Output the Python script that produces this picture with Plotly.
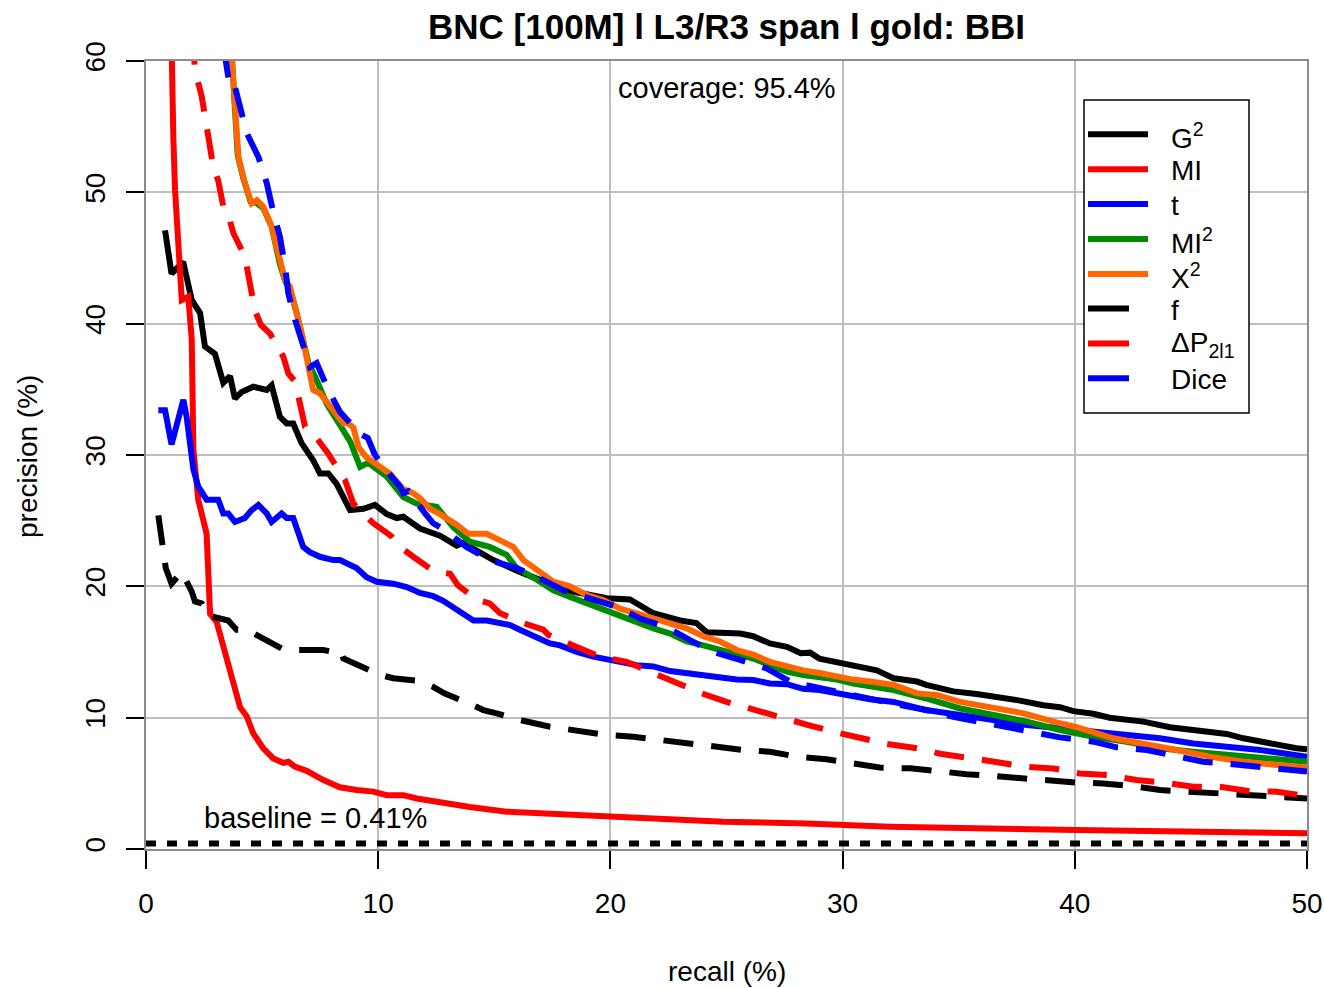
import plotly.graph_objects as go

# ---------------- data (recall %, precision %) ----------------
G2_x = [0.82, 1.1, 1.6, 1.97, 2.33, 2.54, 2.97, 3.33, 3.62, 3.83, 4.12, 4.62, 5.2, 5.41, 5.77, 6.06, 6.34, 6.7, 7.2, 7.49, 7.85, 8.21, 8.5, 8.79, 9.36, 9.86, 10.37, 10.8, 11.08, 11.8, 12.66, 13.38, 13.66, 14.96, 16.1, 16.97, 18.1, 19.84, 20.84, 21.85, 23.0, 23.7, 24.15, 25.6, 26.15, 26.87, 27.6, 28.2, 28.6, 29.0, 29.75, 30.3, 31.0, 31.47, 32.2, 33.2, 33.6, 34.77, 35.77, 36.78, 37.64, 38.64, 39.36, 39.94, 40.8, 41.5, 42.2, 42.95, 44.1, 45.1, 45.8, 46.54, 47.26, 47.98, 48.98, 49.55, 50.0]
G2_y = [47.1, 43.8, 44.7, 41.8, 40.8, 38.25, 37.7, 35.5, 36.0, 34.3, 34.8, 35.2, 34.95, 35.3, 32.9, 32.4, 32.4, 30.9, 29.6, 28.6, 28.6, 27.8, 26.8, 25.8, 25.9, 26.2, 25.5, 25.2, 25.3, 24.4, 23.85, 23.1, 23.3, 22.0, 21.1, 20.5, 19.7, 19.1, 19.0, 17.95, 17.4, 17.2, 16.5, 16.4, 16.2, 15.65, 15.4, 14.9, 14.95, 14.5, 14.25, 14.0, 13.8, 13.6, 13.0, 12.75, 12.5, 12.0, 11.8, 11.55, 11.3, 10.95, 10.8, 10.5, 10.3, 10.0, 9.9, 9.7, 9.27, 9.06, 8.93, 8.76, 8.43, 8.17, 7.92, 7.67, 7.6]

MI_x = [1.05, 1.1, 1.18, 1.25, 1.39, 1.54, 1.82, 1.97, 2.04, 2.25, 2.61, 2.76, 3.04, 3.4, 3.76, 4.05, 4.34, 4.62, 5.05, 5.48, 5.91, 6.13, 6.41, 6.92, 7.64, 8.35, 9.07, 9.79, 10.37, 11.08, 11.66, 12.66, 13.95, 15.53, 18.4, 19.84, 23.43, 24.86, 28.45, 30.75, 32.04, 40.08, 50.0]
MI_y = [66.0, 60.0, 54.0, 50.2, 46.4, 41.8, 42.05, 38.8, 30.4, 26.6, 24.0, 17.9, 17.3, 14.9, 12.4, 10.8, 10.1, 8.8, 7.67, 6.9, 6.56, 6.64, 6.27, 5.95, 5.25, 4.7, 4.5, 4.37, 4.1, 4.1, 3.85, 3.55, 3.2, 2.84, 2.59, 2.46, 2.26, 2.08, 1.95, 1.83, 1.7, 1.45, 1.2]

t_x = [0.53, 0.82, 1.1, 1.61, 1.75, 2.04, 2.25, 2.61, 3.11, 3.33, 3.54, 3.83, 4.26, 4.55, 4.84, 5.2, 5.41, 5.84, 6.06, 6.34, 6.77, 7.06, 7.49, 8.07, 8.35, 9.07, 9.5, 9.94, 10.65, 11.23, 11.8, 12.37, 12.8, 13.23, 13.8, 14.1, 14.67, 15.68, 16.1, 16.83, 17.4, 17.83, 18.55, 19.26, 19.84, 20.41, 21.13, 21.85, 22.57, 23.28, 24.0, 24.72, 25.44, 26.15, 26.87, 27.6, 28.3, 29.0, 29.75, 30.46, 31.18, 32.2, 33.6, 35.06, 36.5, 37.93, 39.36, 40.8, 42.24, 43.67, 45.1, 46.54, 47.98, 50.0]
t_y = [33.4, 33.4, 30.8, 34.2, 32.9, 28.9, 27.6, 26.6, 26.6, 25.55, 25.55, 24.9, 25.2, 25.8, 26.2, 25.55, 24.9, 25.55, 25.2, 25.2, 23.0, 22.6, 22.25, 22.0, 22.0, 21.4, 20.7, 20.35, 20.2, 19.95, 19.5, 19.25, 18.9, 18.4, 17.8, 17.4, 17.4, 17.05, 16.7, 16.15, 15.65, 15.5, 15.0, 14.65, 14.4, 14.25, 14.0, 13.9, 13.55, 13.4, 13.3, 13.1, 12.9, 12.87, 12.6, 12.55, 12.2, 12.1, 11.85, 11.6, 11.4, 11.2, 10.58, 10.2, 9.82, 9.44, 9.19, 8.93, 8.68, 8.43, 8.04, 7.79, 7.54, 7.03]

MI2_x = [3.69, 3.83, 3.95, 4.2, 4.5, 4.75, 5.05, 5.41, 5.77, 6.0, 6.2, 6.49, 6.77, 7.0, 7.35, 7.78, 8.35, 8.8, 9.22, 9.5, 9.65, 10.37, 11.08, 11.66, 12.52, 13.23, 13.95, 14.8, 15.53, 15.96, 16.83, 17.54, 18.26, 18.98, 19.7, 20.41, 21.13, 21.85, 22.57, 23.28, 24.0, 24.72, 25.44, 26.15, 26.87, 27.6, 28.3, 29.0, 29.75, 30.46, 31.18, 32.2, 33.6, 35.06, 36.5, 37.93, 39.36, 40.8, 42.24, 43.67, 45.1, 46.54, 47.98, 50.0]
MI2_y = [60.5, 56.5, 52.8, 51.0, 49.3, 49.2, 48.8, 47.4, 44.5, 43.2, 42.6, 40.8, 38.6, 37.0, 35.7, 33.9, 32.3, 31.0, 29.1, 29.35, 29.3, 28.35, 26.8, 26.3, 26.05, 24.5, 23.4, 23.0, 22.4, 21.4, 20.5, 19.7, 19.2, 18.7, 18.2, 17.7, 17.2, 16.8, 16.4, 15.8, 15.5, 15.15, 14.8, 14.5, 14.0, 13.5, 13.25, 13.1, 12.9, 12.6, 12.4, 12.1, 11.46, 10.7, 10.2, 9.7, 9.06, 8.55, 8.17, 7.67, 7.4, 7.16, 6.9, 6.64]

X2_x = [3.69, 3.83, 3.98, 4.26, 4.55, 4.77, 5.05, 5.41, 5.77, 5.99, 6.2, 6.49, 6.7, 7.2, 7.49, 8.07, 8.5, 8.64, 8.93, 9.15, 9.5, 10.08, 10.5, 11.08, 11.51, 11.8, 12.23, 12.66, 13.38, 13.88, 14.67, 15.25, 15.82, 16.25, 16.97, 17.54, 18.26, 18.98, 19.7, 20.41, 21.13, 21.85, 22.57, 23.28, 24.0, 24.72, 25.44, 26.15, 26.87, 27.6, 28.3, 29.0, 29.75, 30.46, 31.18, 32.2, 33.2, 34.06, 35.06, 36.5, 37.8, 39.08, 40.08, 41.66, 42.95, 44.39, 45.8, 47.26, 48.7, 50.0]
X2_y = [60.5, 56.5, 52.7, 50.7, 49.15, 49.4, 48.9, 47.4, 44.85, 43.3, 42.8, 41.0, 39.3, 34.95, 34.7, 33.4, 32.4, 32.5, 32.1, 30.6, 29.8, 29.1, 28.6, 27.4, 27.1, 26.7, 25.9, 25.5, 24.7, 24.0, 24.0, 23.5, 23.0, 22.0, 21.1, 20.35, 20.0, 19.35, 18.95, 18.3, 17.95, 17.55, 17.2, 16.8, 16.2, 15.8, 15.15, 14.8, 14.25, 13.9, 13.6, 13.4, 13.1, 12.9, 12.75, 12.5, 11.85, 11.73, 11.2, 10.7, 10.33, 9.7, 9.27, 8.43, 8.04, 7.54, 7.03, 6.64, 6.4, 6.2]

f_x = [0.53, 0.67, 0.85, 1.1, 1.54, 1.97, 2.11, 2.4, 2.61, 3.54, 3.9, 4.34, 5.41, 5.91, 6.49, 7.64, 8.07, 8.35, 8.5, 9.5, 10.08, 10.65, 11.8, 12.37, 12.85, 13.9, 14.53, 15.1, 16.1, 17.4, 18.55, 19.84, 20.98, 22.13, 23.28, 24.58, 25.72, 26.87, 28.02, 29.31, 30.5, 31.6, 32.9, 34.06, 35.34, 36.5, 37.64, 38.79, 40.08, 41.23, 42.38, 43.67, 44.82, 45.97, 47.26, 48.41, 50.0]
f_y = [25.4, 23.3, 21.4, 20.2, 21.1, 19.6, 18.85, 18.7, 17.8, 17.4, 16.7, 16.7, 15.65, 15.2, 15.15, 15.15, 15.0, 15.15, 14.5, 13.75, 13.25, 13.0, 12.8, 12.35, 11.85, 11.1, 10.58, 10.32, 9.82, 9.31, 9.06, 8.68, 8.55, 8.3, 8.04, 7.86, 7.54, 7.41, 7.03, 6.83, 6.5, 6.2, 6.14, 5.88, 5.7, 5.56, 5.37, 5.19, 5.06, 4.99, 4.81, 4.49, 4.36, 4.28, 4.19, 4.04, 3.85]

DP_x = [2.0, 2.11, 2.4, 2.61, 2.76, 2.9, 3.11, 3.33, 3.54, 3.76, 4.26, 4.48, 4.69, 4.95, 5.34, 5.91, 6.13, 6.42, 6.63, 6.85, 7.2, 7.85, 8.57, 8.93, 9.22, 9.79, 10.58, 10.94, 11.51, 12.4, 13.1, 13.42, 14.23, 14.8, 15.25, 16.25, 17.11, 17.33, 18.4, 19.55, 20.7, 21.7, 22.85, 23.93, 25.0, 26.23, 27.3, 28.52, 29.6, 30.8, 31.9, 33.2, 34.27, 35.6, 36.6, 37.93, 39.08, 40.22, 41.44, 42.66, 43.81, 45.1, 46.25, 47.4, 48.7, 50.0]
DP_y = [62.0, 59.3, 57.3, 55.0, 53.0, 51.9, 50.9, 48.9, 48.3, 46.9, 45.1, 43.1, 41.0, 39.9, 39.25, 37.5, 36.2, 35.6, 33.7, 32.15, 31.65, 30.1, 28.1, 26.3, 25.8, 24.8, 23.8, 23.0, 22.25, 21.15, 20.95, 20.1, 19.0, 18.7, 17.95, 17.2, 16.7, 16.3, 15.5, 14.65, 14.25, 13.5, 12.55, 11.85, 11.2, 10.58, 9.95, 9.44, 8.93, 8.4, 8.0, 7.67, 7.23, 6.9, 6.64, 6.26, 6.13, 5.75, 5.63, 5.25, 5.06, 4.74, 4.74, 4.43, 4.36, 4.04]

Dice_x = [3.35, 3.62, 3.83, 4.05, 4.34, 4.84, 5.2, 5.48, 5.77, 5.99, 6.13, 6.42, 6.77, 7.06, 7.35, 7.85, 8.35, 9.22, 9.55, 9.86, 10.55, 10.94, 11.08, 11.3, 12.02, 12.37, 12.85, 13.8, 14.8, 15.96, 16.97, 17.97, 19.12, 20.27, 21.27, 22.42, 23.43, 24.43, 25.58, 26.73, 27.73, 28.7, 29.7, 30.75, 32.47, 33.6, 34.77, 35.92, 37.07, 38.36, 39.36, 40.8, 41.8, 43.1, 44.24, 45.53, 46.54, 47.84, 48.98, 50.0]
Dice_y = [61.0, 57.9, 58.05, 56.5, 54.5, 52.7, 50.7, 48.5, 46.6, 44.3, 42.3, 40.3, 38.25, 36.7, 37.0, 34.95, 33.3, 31.6, 31.3, 30.0, 28.4, 27.6, 27.1, 27.25, 25.55, 24.8, 24.3, 23.0, 22.0, 21.4, 20.6, 19.7, 19.07, 18.45, 17.55, 16.9, 15.9, 15.0, 14.4, 13.75, 12.75, 12.35, 11.95, 11.6, 10.96, 10.58, 10.07, 9.69, 9.31, 8.8, 8.5, 8.17, 7.74, 7.54, 7.16, 6.64, 6.5, 6.26, 6.0, 5.9]

BASELINE = 0.41
COVERAGE = 95.4

series_names = ["G<sup>2</sup>", "MI", "t", "MI<sup>2</sup>", "X<sup>2</sup>", "f", "ΔP<sub>2l1</sub>", "Dice"]
series_x = [G2_x, MI_x, t_x, MI2_x, X2_x, f_x, DP_x, Dice_x]
series_y = [G2_y, MI_y, t_y, MI2_y, X2_y, f_y, DP_y, Dice_y]
series_colors = ["#000000", "#FF0000", "#0000FF", "#008B00", "#FF6600", "#000000", "#FF0000", "#0000FF"]
series_dashed = [False, False, False, False, False, True, True, True]

FONT = "Liberation Sans, Arial, Helvetica, sans-serif"
DASH = "30px,18px"
LW = 6

# ---------------- geometry (pixels) ----------------
W, H = 1324, 988
L, R, T, B = 146, 1307, 61, 849


def px(xp):
    return (xp - L) / (R - L)


def py(yp):
    return (B - yp) / (B - T)


fig = go.Figure()
for name, xs, ys, col, dashed in zip(series_names, series_x, series_y, series_colors, series_dashed):
    fig.add_trace(go.Scatter(
        x=xs, y=ys, mode="lines", name=name, showlegend=False,
        line=dict(color=col, width=LW, dash=DASH if dashed else "solid"),
        hoverinfo="skip",
    ))

shapes = []
# baseline
shapes.append(dict(type="line", xref="x domain", yref="y", x0=0, x1=1, y0=BASELINE, y1=BASELINE,
                   line=dict(color="black", width=6, dash="10px,11px"), layer="above"))

# custom legend
shapes.append(dict(type="rect", xref="paper", yref="paper", x0=px(1084), x1=px(1249), y0=py(413), y1=py(100),
                   line=dict(color="black", width=1.5), fillcolor="white", layer="above"))
annotations = []
row_y = [134.3, 169.3, 204.0, 239.0, 274.0, 308.6, 343.4, 378.2]
for i, (name, col, dashed) in enumerate(zip(series_names, series_colors, series_dashed)):
    x_end = 1129 if dashed else 1148
    shapes.append(dict(type="line", xref="paper", yref="paper", x0=px(1088), x1=px(x_end),
                       y0=py(row_y[i]), y1=py(row_y[i]), line=dict(color=col, width=LW), layer="above"))
    annotations.append(dict(text=name, xref="paper", yref="paper", x=px(1169), y=py(row_y[i] + 1.5),
                            xanchor="left", yanchor="middle", showarrow=False,
                            font=dict(size=28, color="black", family=FONT)))

annotations += [
    dict(text="<b>BNC [100M] l L3/R3 span l gold: BBI</b>", xref="paper", yref="paper",
         x=0.5, y=py(26), xanchor="center", yanchor="middle", showarrow=False,
         font=dict(size=35, color="black", family=FONT)),
    dict(text=f"coverage: {COVERAGE}%", xref="paper", yref="paper", x=0.5, y=py(88),
         xanchor="center", yanchor="middle", showarrow=False, font=dict(size=29, color="black", family=FONT)),
    dict(text=f"baseline = {BASELINE}%", xref="paper", yref="paper", x=px(315), y=py(818),
         xanchor="center", yanchor="middle", showarrow=False, font=dict(size=29, color="black", family=FONT)),
    dict(text="recall (%)", xref="paper", yref="paper", x=0.5, y=py(972),
         xanchor="center", yanchor="middle", showarrow=False, font=dict(size=28, color="black", family=FONT)),
    dict(text="precision (%)", xref="paper", yref="paper", x=px(27), y=py(457), textangle=-90,
         xanchor="center", yanchor="middle", showarrow=False, font=dict(size=28, color="black", family=FONT)),
]

axis_common = dict(
    showgrid=True, gridcolor="#BEBEBE", gridwidth=1.5, zeroline=False,
    showline=True, mirror=True, linecolor="#8C8C8C", linewidth=1.5,
    ticks="outside", ticklen=18, tickwidth=1.5, tickcolor="black",
    tickfont=dict(size=28, color="black", family=FONT), automargin=False,
)

fig.update_layout(
    width=W, height=H,
    margin=dict(l=L, r=W - R, t=T, b=H - B, pad=0, autoexpand=False),
    paper_bgcolor="white", plot_bgcolor="white",
    showlegend=False,
    xaxis=dict(range=[0, 50], tickvals=[0, 10, 20, 30, 40, 50], ticklabelstandoff=11, **axis_common),
    yaxis=dict(range=[0, 60], tickvals=[0, 10, 20, 30, 40, 50, 60], tickangle=-90, ticklabelstandoff=10, **axis_common),
    shapes=shapes,
    annotations=annotations,
    font=dict(family=FONT, color="black"),
)

fig.write_html("out.html", config={"displayModeBar": False},
               post_script="document.body.style.margin='0';document.body.style.overflow='hidden';")
